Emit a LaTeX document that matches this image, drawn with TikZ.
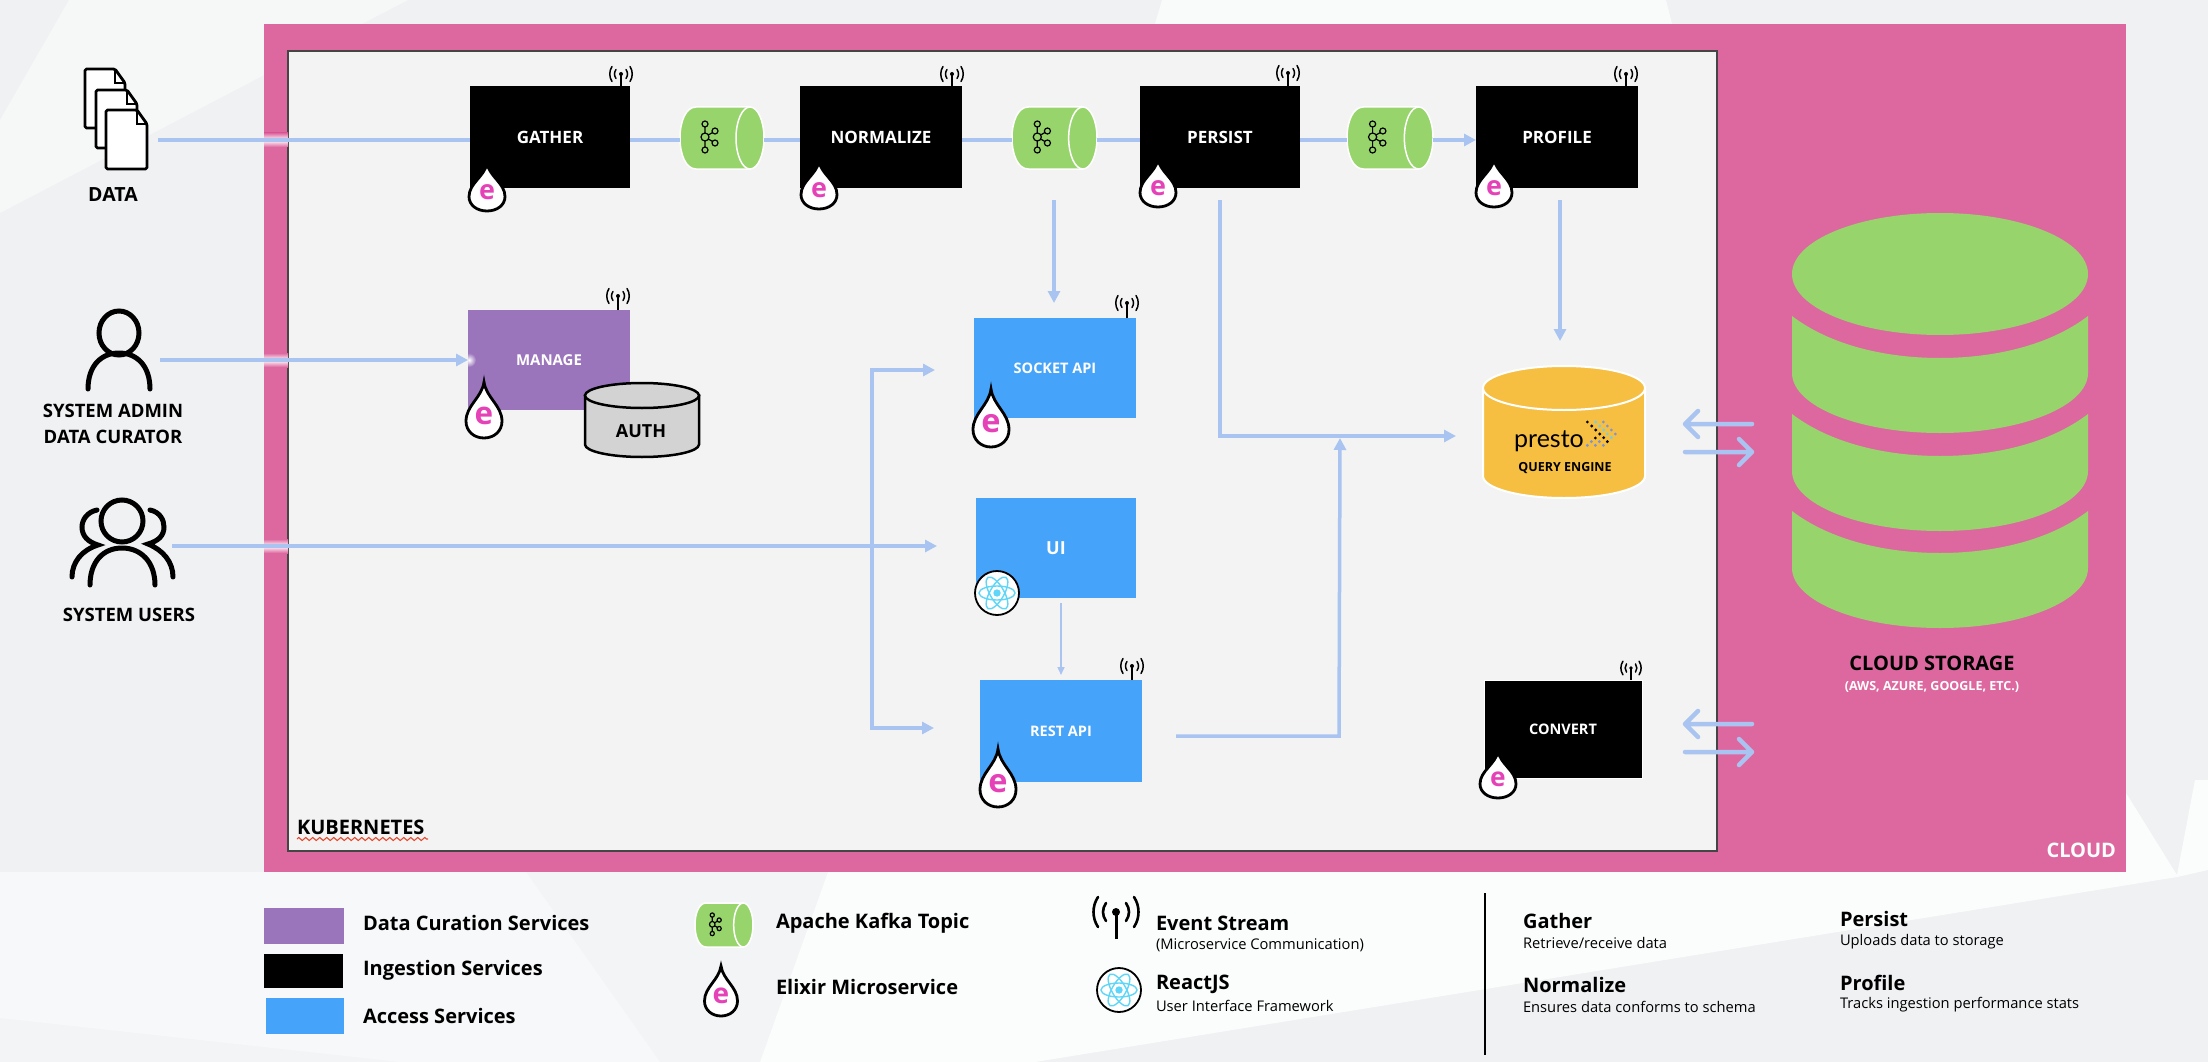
\documentclass[tikz,border=0pt]{standalone}
\usepackage{fontspec}
\setmainfont{Open Sans}
\newfontfamily\prestofont{Lato}
\usetikzlibrary{arrows.meta,decorations.pathmorphing,calc}
\definecolor{pinkc}{HTML}{DD68A0}
\definecolor{kubec}{HTML}{F3F3F3}
\definecolor{kubeb}{HTML}{454545}
\definecolor{flowc}{HTML}{A9C4F0}
\definecolor{greenc}{HTML}{98D46C}
\definecolor{purplec}{HTML}{9A75BC}
\definecolor{bluec}{HTML}{46A3FA}
\definecolor{orangec}{HTML}{F6BF42}
\definecolor{greyc}{HTML}{D3D3D3}
\definecolor{magc}{HTML}{E542B8}
\definecolor{reactc}{HTML}{5FD6F8}
\definecolor{prestoA}{HTML}{7C93D8}
\definecolor{prestoB}{HTML}{6FD0EF}
\newcommand\sz[1]{\fontsize{#1}{#1}\selectfont}
\tikzset{
  box/.style={rectangle,inner sep=0,outer sep=0,anchor=north west,text=white,font=\sz{14.5}\bfseries},
  hit/.style={rectangle,inner sep=0,outer sep=0},
  lbl/.style={inner sep=0,outer sep=0},
  flow/.style={draw=flowc,line width=3.5pt},
  tipped/.style={flow,-{Triangle[length=12pt,width=12pt]}},
  twotip/.style={flow,{Triangle[length=12pt,width=12pt]}-{Triangle[length=12pt,width=12pt]}},
  thinflow/.style={draw=flowc,line width=1.5pt,-{Triangle[length=8pt,width=7pt]}},
  barb/.style={draw=flowc,line width=4.5pt,line cap=round,line join=round},
  icon/.style={draw=black,line width=5pt,line cap=round},
  legbold/.style={lbl,anchor=west,font=\sz{20}\bfseries},
  legsmall/.style={lbl,anchor=west,font=\sz{14.7}},
  caplbl/.style={lbl,font=\sz{18.5}\bfseries},
}
% drop icon: name, cx, tip y, bottom y, half width
\newcommand\drop[5]{%
  \pgfmathsetmacro\dropH{#4-#3}%
  \pgfmathsetmacro\dropF{0.56*\dropH}%
  \path[draw=black,fill=white,line width=2.8pt,line join=miter]
    (#2,#3) .. controls ({#2+0.12*#5},{#3+0.28*\dropH}) and ({#2+#5},{#3+0.42*\dropH}) .. ({#2+#5},{#4-0.3*\dropH})
    .. controls ({#2+#5},{#4-0.12*\dropH}) and ({#2+0.55*#5},#4) .. (#2,#4)
    .. controls ({#2-0.55*#5},#4) and ({#2-#5},{#4-0.12*\dropH}) .. ({#2-#5},{#4-0.3*\dropH})
    .. controls ({#2-#5},{#3+0.42*\dropH}) and ({#2-0.12*#5},{#3+0.28*\dropH}) .. (#2,#3) -- cycle;
  \node[lbl,text=magc,font=\sz{\dropF}\bfseries] (#1) at (#2,{#3+0.6*\dropH}) {e};
}
% antenna: x, base y, centre y, scale
\newcommand\antenna[4]{%
  \draw[line width=1.6pt] (#1,#2) -- (#1,#3);
  \begin{scope}[shift={(#1,#3)},scale=#4]
    \fill (0,0) circle (2);
    \foreach \s in {-1,1}{
      \draw[line width=1.5pt,line cap=round] ({\s*9},-7.5) .. controls ({\s*12},-3) and ({\s*12},3) .. ({\s*9},7.5);
      \draw[line width=1.5pt,line cap=round] ({\s*5},-4.5) .. controls ({\s*7},-1.5) and ({\s*7},1.5) .. ({\s*5},4.5);
    }
  \end{scope}
}
% kafka: name, x0, y0, w, h
\newcommand\kafka[5]{%
  \pgfmathsetmacro\kfx{#4/84}\pgfmathsetmacro\kfy{#5/62}%
  \begin{scope}[shift={(#2,#3)},xscale=\kfx,yscale=\kfy]
    \path[fill=greenc,draw=white,line width=1.5pt]
      (70,0) -- (16,0) .. controls (6,0) and (0,14) .. (0,31) .. controls (0,48) and (6,62) .. (16,62) -- (70,62) -- cycle;
    \path[fill=greenc,draw=white,line width=1.5pt] (70,31) ellipse [x radius=14,y radius=31];
    \draw[line width=1.2pt] (25,17) -- (25,43) (25,30) -- (35,24) (25,30) -- (35,36);
    \foreach \p/\r in {{(25,17)}/3,{(25,43)}/3,{(35,24)}/3,{(35,36)}/3,{(25,30)}/4}{
      \path[fill=greenc,draw=black,line width=1.2pt] \p circle (\r);
    }
    \node[hit,minimum width=#4pt,minimum height=#5pt] (#1) at (42,31) {};
  \end{scope}
}
% cylinder: name, x0, y0, x1, y1, ry, style
\newcommand\cyl[7]{%
  \pgfmathsetmacro\cyCx{(#2+#4)/2}\pgfmathsetmacro\cyRx{(#4-#2)/2}%
  \pgfmathsetmacro\cyK{0.5523*\cyRx}\pgfmathsetmacro\cyL{0.5523*#6}%
  \path[#7] (#2,{#3+#6}) -- (#2,{#5-#6})
    .. controls (#2,{#5-#6+\cyL}) and ({\cyCx-\cyK},#5) .. (\cyCx,#5)
    .. controls ({\cyCx+\cyK},#5) and (#4,{#5-#6+\cyL}) .. (#4,{#5-#6})
    -- (#4,{#3+#6}) -- cycle;
  \path[#7] (\cyCx,{#3+#6}) ellipse [x radius=\cyRx,y radius=#6];
  \node[hit,minimum width={(#4-#2)*1pt},minimum height={(#5-#3)*1pt}] (#1) at (\cyCx,{(#3+#5)/2}) {};
}
% react icon: name, x, y
\newcommand\reacticon[3]{%
  \node[hit,circle,minimum size=44pt,fill=white,draw=black,line width=1.8pt] (#1) at (#2,#3) {};
  \begin{scope}[shift={(#2,#3)}]
    \foreach \a in {0,60,120}{
      \draw[reactc,line width=1.4pt,rotate=\a] (0,0) ellipse [x radius=18,y radius=7];
    }
    \fill[reactc] (0,0) circle (3.7);
  \end{scope}
}
% document page
\newcommand\docpage[4]{%
  \path[draw=black,fill=white,line width=2.8pt,rounded corners=1.5pt,line join=round]
    (#1,#2) -- ({#3-10},#2) -- (#3,{#2+14}) -- (#3,#4) -- (#1,#4) -- cycle;
  \draw[line width=1.4pt] ({#3-10},#2) -- ({#3-10},{#2+14}) -- (#3,{#2+14});
}
% band of the storage stack: y offset
\newcommand\band[1]{%
  \fill[greenc] (1792,{316+#1}) .. controls (1830,{345+#1}) and (1885,{358+#1}) .. (1940,{358+#1})
    .. controls (1995,{358+#1}) and (2050,{345+#1}) .. (2088,{316+#1}) -- (2088,{373+#1})
    .. controls (2088,{406+#1}) and (2022,{433+#1}) .. (1940,{433+#1})
    .. controls (1858,{433+#1}) and (1792,{406+#1}) .. (1792,{373+#1}) -- cycle;
}
\begin{document}
\begin{tikzpicture}[x=1pt,y=-1pt]
\useasboundingbox (0,0) rectangle (2208,1062);
% background
\fill[fill={rgb,255:red,240;green,241;blue,243}] (0,0) rectangle (2208,1062);
\fill[fill={rgb,255:red,246;green,247;blue,247}] (69,0) -- (408,0) -- (0,213) -- (0,120) -- cycle;
\fill[fill={rgb,255:red,249;green,250;blue,250}] (1162,0) -- (1666,0) -- (1672,24) -- (1155,24) -- cycle;
\fill[fill={rgb,255:red,243;green,244;blue,245}] (0,872) -- (828,872) -- (760,1062) -- (0,1062) -- cycle;
\fill[fill={rgb,255:red,247;green,248;blue,249}] (0,872) -- (526,872) -- (660,1062) -- (400,1062) -- (0,1018) -- cycle;
\fill[fill={rgb,255:red,251;green,252;blue,252}] (828,872) -- (2126,872) -- (2126,793) -- (2177,875) -- (2195,780) -- (2208,780) -- (2208,870) -- (2177,877) -- (1035,1062) -- (760,1062) -- cycle;
% frames
\fill[pinkc] (264,24) rectangle (2126,872);
\path[fill=kubec,draw=kubeb,line width=2pt] (288,51) rectangle (1717,851);
\node[lbl,anchor=west,font=\sz{20}\bfseries] (kubernetes) at (297,827) {KUBERNETES};
\draw[draw={rgb,255:red,232;green,73;blue,46},line width=1.1pt,decorate,decoration={zigzag,amplitude=1.5pt,segment length=7pt}] (297,839) -- (428,839);
\node[lbl,anchor=east,text=white,font=\sz{20}\bfseries] (cloudlabel) at (2116,850) {CLOUD};
% glow where lines cross the frame
\foreach \g in {140,360,546}{
  \shade[top color=pinkc,bottom color=pinkc,middle color=white] (264,{\g-7}) rectangle (288,{\g+7});
}
% icons on the left
\docpage{85}{69}{125}{128}
\docpage{96}{90}{137}{148}
\docpage{106}{110}{147}{169}
\node[hit,minimum width=62pt,minimum height=100pt] (dataicon) at (116,119) {};
\node[caplbl,font=\sz{19.5}\bfseries] (datalabel) at (113,195) {DATA};
\draw[icon] (119,333) ellipse [x radius=20,y radius=22];
\draw[icon] (88,389) .. controls (88,366) and (101,353) .. (119,353) .. controls (137,353) and (150,366) .. (150,389);
\node[hit,minimum width=62pt,minimum height=80pt] (adminicon) at (119,349) {};
\node[caplbl] (adminlabel) at (113,411) {SYSTEM ADMIN};
\node[caplbl] (curatorlabel) at (113,437) {DATA CURATOR};
\draw[icon] (122,521) circle (21);
\draw[icon] (90,585) .. controls (90,562) and (103,548) .. (122,548) .. controls (141,548) and (155,562) .. (155,585);
\draw[icon] (97,510) .. controls (87,512) and (82,520) .. (82,527) .. controls (82,536) and (88,542) .. (98,545) .. controls (82,550) and (72,562) .. (72,577);
\draw[icon] (150,510) .. controls (160,512) and (164,520) .. (164,527) .. controls (164,536) and (158,541) .. (148,544) .. controls (163,550) and (173,562) .. (173,577);
\node[hit,minimum width=100pt,minimum height=80pt] (usersicon) at (122,545) {};
\node[caplbl] (userslabel) at (129,615) {SYSTEM USERS};
% coordinates for free ends
\coordinate (lineA) at (0,140);
\coordinate (dataout) at (158,140);
\coordinate (adminout) at (160,360);
\coordinate (usersout) at (172,546);
\coordinate (uiin) at (937,546);
\coordinate (sockin) at (935,370);
\coordinate (restin) at (934,728);
\coordinate (bus) at (872,370);
\coordinate (normdown) at (1054,200);
\coordinate (sockabove) at (1054,303);
\coordinate (perdown) at (1220,200);
\coordinate (perbend) at (1220,436);
\coordinate (prestoin) at (1456,436);
\coordinate (profdown) at (1560,200);
\coordinate (prestotop) at (1560,341);
\coordinate (restout) at (1176,736);
\coordinate (restbend) at (1339,736);
\coordinate (merge) at (1340,438);
\coordinate (uidown) at (1061,603);
\coordinate (restabove) at (1061,675);
\coordinate (pa1) at (1752,424);\coordinate (pa2) at (1685,424);
\coordinate (pb1) at (1685,452);\coordinate (pb2) at (1752,452);
\coordinate (ca1) at (1752,724);\coordinate (ca2) at (1685,724);
\coordinate (cb1) at (1685,752);\coordinate (cb2) at (1752,752);
% boxes
\node[box,fill=black,minimum width=160pt,minimum height=102pt,font=\sz{17}\bfseries] (gather) at (470,86) {GATHER};
\node[box,fill=black,minimum width=162pt,minimum height=102pt,font=\sz{17}\bfseries] (normalize) at (800,86) {NORMALIZE};
\node[box,fill=black,minimum width=160pt,minimum height=102pt,font=\sz{17}\bfseries] (persist) at (1140,86) {PERSIST};
\node[box,fill=black,minimum width=162pt,minimum height=102pt,font=\sz{17}\bfseries] (profile) at (1476,86) {PROFILE};
\node[box,fill=purplec,minimum width=162pt,minimum height=100pt,font=\sz{15}\bfseries] (manage) at (468,310) {MANAGE};
\node[box,fill=bluec,minimum width=162pt,minimum height=100pt] (socket) at (974,318) {SOCKET API};
\node[box,fill=bluec,minimum width=160pt,minimum height=100pt,font=\sz{18}\bfseries] (ui) at (976,498) {UI};
\node[box,fill=bluec,minimum width=162pt,minimum height=102pt] (rest) at (980,680) {REST API};
\node[box,fill=black,draw=white,line width=1pt,minimum width=158pt,minimum height=98pt] (convert) at (1484,680) {CONVERT};
\begin{scope}
  \clip (manage.north west) rectangle (manage.south east);
  \shade[inner color=white,outer color=purplec] (469,360) circle (7);
\end{scope}
% connectors
\draw[flow] (dataout) -- (gather.west |- lineA);
\draw[tipped] (adminout) -- (manage.west |- adminout);
\draw[tipped] (usersout) -- (uiin);
\kafka{topicA}{680}{107}{84}{62}
\kafka{topicB}{1012}{107}{85}{62}
\kafka{topicC}{1347}{107}{86}{62}
\draw[flow] (gather.east |- lineA) -- (topicA.west |- lineA);
\draw[flow] (topicA.east |- lineA) -- (normalize.west |- lineA);
\draw[flow] (normalize.east |- lineA) -- (topicB.west |- lineA);
\draw[flow] (topicB.east |- lineA) -- (persist.west |- lineA);
\draw[flow] (persist.east |- lineA) -- (topicC.west |- lineA);
\draw[tipped] (topicC.east |- lineA) -- (profile.west |- lineA);
\draw[tipped] (normdown) -- (sockabove);
\draw[tipped] (perdown) -- (perbend) -- (prestoin);
\draw[tipped] (profdown) -- (prestotop);
\draw[tipped] (restout) -- (restbend) -- (merge);
\draw[twotip] (sockin) -- (bus) -- (bus |- restin) -- (restin);
\draw[thinflow] (uidown) -- (restabove);
\draw[barb] (pa1) -- (pa2) ($(pa2)+(13,-13)$) -- (pa2) -- ($(pa2)+(13,13)$);
\draw[barb] (pb1) -- (pb2) ($(pb2)+(-13,-13)$) -- (pb2) -- ($(pb2)+(-13,13)$);
\draw[barb] (ca1) -- (ca2) ($(ca2)+(13,-13)$) -- (ca2) -- ($(ca2)+(13,13)$);
\draw[barb] (cb1) -- (cb2) ($(cb2)+(-13,-13)$) -- (cb2) -- ($(cb2)+(-13,13)$);
% antennas
\antenna{621}{86}{74}{1}
\antenna{952}{86}{74}{1}
\antenna{1288}{86}{73}{1}
\antenna{1626}{86}{74}{1}
\antenna{618}{310}{296}{1}
\antenna{1127}{318}{303}{1}
\antenna{1132}{680}{666}{1}
\antenna{1631}{680}{668}{0.9}
% drops
\drop{dropG}{487}{163}{211}{18}
\drop{dropN}{819}{161}{209}{18}
\drop{dropP}{1158}{159}{207}{18}
\drop{dropR}{1494}{159}{207}{18}
\drop{dropM}{484}{382}{438}{18}
\drop{dropS}{991}{389}{447}{18}
\drop{dropE}{998}{749}{807}{18}
\drop{dropC}{1498}{751}{798}{18}
\reacticon{reactUI}{997}{593}
% AUTH
\cyl{auth}{585}{383}{699}{457}{12.5}{draw=black,fill=greyc,line width=2.5pt}
\node[lbl,font=\sz{18}\bfseries] (authlabel) at (641,431) {AUTH};
% presto
\cyl{presto}{1483}{366}{1645}{498}{22}{draw=white,fill=orangec,line width=2pt}
\node[lbl,font=\sz{25}\prestofont] (prestolabel) at (1549,441) {presto};
\foreach \dx/\dy/\c in {352/216/black,365/228/black,377/240/black,389/252/black,401/263/black,412/275/black,376/264/black,
  377/216/prestoB,389/228/prestoB,401/240/prestoB,412/252/prestoB,424/263/prestoB,
  400/216/prestoA,412/228/prestoA,424/240/prestoA,436/252/prestoA,352/286/prestoA,376/286/prestoA,400/286/prestoA,364/275/prestoA,388/275/prestoA}{
  \fill[\c] ({1470+\dx/3},{350+\dy/3}) circle (1.6);
}
\node[lbl,font=\sz{12.5}\bfseries] (querylabel) at (1565,468) {QUERY ENGINE};
% cloud storage
\fill[greenc] (1940,274) ellipse [x radius=148,y radius=61];
\band{0}
\band{98}
\band{195}
\node[lbl,font=\sz{20}\bfseries] (storagelabel) at (1932,663) {CLOUD STORAGE};
\node[lbl,text=white,font=\sz{12.5}\bfseries] (storagesub) at (1932,687) {(AWS, AZURE, GOOGLE, ETC.)};
% legend
\fill[purplec] (264,908) rectangle (344,944);
\fill[black] (264,954) rectangle (343,988);
\fill[bluec] (266,998) rectangle (344,1034);
\node[legbold] (lgA) at (363,923) {Data Curation Services};
\node[legbold] (lgB) at (363,970) {Ingestion Services};
\node[legbold] (lgC) at (363,1016) {Access Services};
\kafka{topicL}{695}{903}{58}{44}
\node[legbold] (lgD) at (776,923) {Apache Kafka Topic};
\drop{dropL}{721}{966}{1016}{16.5}
\node[legbold] (lgE) at (776,987) {Elixir Microservice};
\draw[line width=3pt] (1116,939) -- (1116,912);
\begin{scope}[shift={(1116,912)},scale=2]
  \fill (0,0) circle (2);
  \foreach \s in {-1,1}{
    \draw[line width=2.6pt,line cap=round] ({\s*9},-7.5) .. controls ({\s*12},-3) and ({\s*12},3) .. ({\s*9},7.5);
    \draw[line width=2.6pt,line cap=round] ({\s*5},-4.5) .. controls ({\s*7},-1.5) and ({\s*7},1.5) .. ({\s*5},4.5);
  }
\end{scope}
\node[legbold] (lgF) at (1156,923) {Event Stream};
\node[legsmall] (lgG) at (1156,945) {(Microservice Communication)};
\reacticon{reactL}{1119}{990}
\node[legbold] (lgH) at (1156,984) {ReactJS};
\node[legsmall] (lgI) at (1156,1006) {User Interface Framework};
\draw[line width=2pt] (1485,893) -- (1485,1055);
\node[legbold] (lgJ) at (1523,921) {Gather};
\node[legsmall] (lgK) at (1523,943) {Retrieve/receive data};
\node[legbold] (lgL) at (1523,985) {Normalize};
\node[legsmall] (lgM) at (1523,1007) {Ensures data conforms to schema};
\node[legbold] (lgN) at (1840,919) {Persist};
\node[legsmall] (lgO) at (1840,942) {Uploads data to storage};
\node[legbold] (lgP) at (1840,983) {Profile};
\node[legsmall] (lgQ) at (1840,1005) {Tracks ingestion performance stats};
\end{tikzpicture}
\end{document}
